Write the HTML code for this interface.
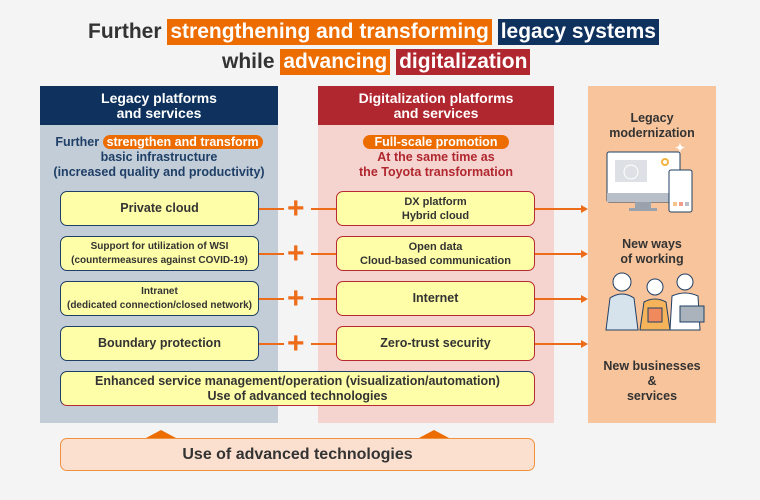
<!DOCTYPE html>
<html><head><meta charset="utf-8"><style>
*{margin:0;padding:0;box-sizing:border-box}
body{width:760px;height:500px;background:#f4f4f4;font-family:"Liberation Sans",Arial,sans-serif;font-weight:bold;color:#333;position:relative;overflow:hidden}
.a{position:absolute}
.t{position:absolute;font-size:21px;line-height:26px;white-space:nowrap;color:#333}
.t span{display:inline-block;color:#fff;padding:0 3px;line-height:26px}
.hd{position:absolute;color:#fff;text-align:center;font-size:14px;line-height:15px;padding-top:5px;height:39px}
.box{position:absolute;background:#fefea8;border:1.5px solid #1f3f66;border-radius:7px;display:flex;align-items:center;justify-content:center;text-align:center;font-size:12.5px;line-height:15px;color:#333}
.box.s{font-size:10px;line-height:14px}
.r{border-color:#b52a33}
.box.r.s{font-size:11px}
.ln{position:absolute;height:1.5px;background:#ed6c1a}
.plus{position:absolute;color:#ed6c1a;font-size:30px;line-height:26px;font-weight:bold}
.arr{position:absolute;width:0;height:0;border-top:4px solid transparent;border-bottom:4px solid transparent;border-left:7px solid #ed6c1a}
.c{position:absolute;text-align:center;font-size:12.5px;line-height:15px}
</style></head><body>
<div class="t" style="left:88px;top:19px">Further <span style="background:#ed6c00">strengthening and transforming</span> <span style="background:#0e325d">legacy systems</span></div>
<div class="t" style="left:222px;top:49px">while <span style="background:#ed6c00">advancing</span> <span style="background:#b1272f">digitalization</span></div>

<div class="a" style="left:40px;top:86px;width:238px;height:337px;background:#c2cdd8"></div>
<div class="hd" style="left:40px;top:86px;width:238px;background:#0e325d">Legacy platforms<br>and services</div>
<div class="a" style="left:318px;top:86px;width:236px;height:337px;background:#f5d4cf"></div>
<div class="hd" style="left:318px;top:86px;width:236px;background:#b1272f">Digitalization platforms<br>and services</div>
<div class="a" style="left:588px;top:86px;width:128px;height:337px;background:#f8c49b"></div>

<div class="c" style="left:40px;top:135px;width:238px;color:#1f3f66;line-height:15px">Further <span style="background:#ed6c00;color:#fff;border-radius:8px;padding:0 4px">strengthen and transform</span><br>basic infrastructure<br>(increased quality and productivity)</div>
<div class="c" style="left:318px;top:135px;width:236px;color:#b1272f;line-height:15px"><span style="background:#ed6c00;color:#fff;border-radius:8px;padding:0 12px">Full-scale promotion</span><br>At the same time as<br>the Toyota transformation</div>

<div class="box" style="left:60px;top:191px;width:199px;height:35px">Private cloud</div>
<div class="box s" style="left:60px;top:236px;width:199px;height:35px">Support for utilization of WSI<br>(countermeasures against COVID-19)</div>
<div class="box s" style="left:60px;top:281px;width:199px;height:35px">Intranet<br>(dedicated connection/closed network)</div>
<div class="box" style="left:60px;top:326px;width:199px;height:35px">Boundary protection</div>

<div class="box r s" style="left:336px;top:191px;width:199px;height:35px">DX platform<br>Hybrid cloud</div>
<div class="box r s" style="left:336px;top:236px;width:199px;height:35px">Open data<br>Cloud-based communication</div>
<div class="box r" style="left:336px;top:281px;width:199px;height:35px">Internet</div>
<div class="box r" style="left:336px;top:326px;width:199px;height:35px">Zero-trust security</div>

<div class="box" style="left:60px;top:371px;width:475px;height:35px;border-color:#1f3f66 #b52a33 #b52a33 #1f3f66">Enhanced service management/operation (visualization/automation)<br>Use of advanced technologies</div>

<div class="ln" style="left:259px;top:208px;width:25px"></div><div class="ln" style="left:311px;top:208px;width:25px"></div><div class="plus" style="left:287px;top:196px">+</div>
<div class="ln" style="left:259px;top:253px;width:25px"></div><div class="ln" style="left:311px;top:253px;width:25px"></div><div class="plus" style="left:287px;top:241px">+</div>
<div class="ln" style="left:259px;top:298px;width:25px"></div><div class="ln" style="left:311px;top:298px;width:25px"></div><div class="plus" style="left:287px;top:286px">+</div>
<div class="ln" style="left:259px;top:343px;width:25px"></div><div class="ln" style="left:311px;top:343px;width:25px"></div><div class="plus" style="left:287px;top:331px">+</div>

<div class="ln" style="left:535px;top:208px;width:47px"></div><div class="arr" style="left:581px;top:205px"></div>
<div class="ln" style="left:535px;top:253px;width:47px"></div><div class="arr" style="left:581px;top:250px"></div>
<div class="ln" style="left:535px;top:298px;width:47px"></div><div class="arr" style="left:581px;top:295px"></div>
<div class="ln" style="left:535px;top:343px;width:47px"></div><div class="arr" style="left:581px;top:340px"></div>

<div class="c" style="left:588px;top:111px;width:128px">Legacy<br>modernization</div>
<div class="c" style="left:588px;top:237px;width:128px">New ways<br>of working</div>
<div class="c" style="left:588px;top:359px;width:128px">New businesses<br>&amp;<br>services</div>

<svg class="a" style="left:605px;top:140px" width="100" height="75">
<rect x="2" y="12" width="73" height="50" rx="2" fill="#fff" stroke="#1f3f66" stroke-width="1"/>
<rect x="2" y="53" width="73" height="9" fill="#b8bfc8"/>
<rect x="10" y="20" width="32" height="22" fill="#dde0e4"/>
<circle cx="26" cy="32" r="7" fill="none" stroke="#fff"/>
<rect x="30" y="62" width="16" height="6" fill="#9aa3ad"/><rect x="24" y="68" width="28" height="3" fill="#9aa3ad"/>
<rect x="64" y="30" width="23" height="42" rx="2" fill="#fff" stroke="#1f3f66"/>
<rect x="68" y="62" width="4" height="4" fill="#f6c48a"/><rect x="74" y="62" width="4" height="4" fill="#f19d8a"/><rect x="80" y="62" width="4" height="4" fill="#b8bfc8"/>
<circle cx="60" cy="22" r="3" fill="none" stroke="#f3b53f" stroke-width="2"/>
<text x="70" y="12" fill="#fff" font-size="12">✦</text>
</svg>
<svg class="a" style="left:600px;top:270px" width="110" height="62">
<circle cx="22" cy="12" r="9" fill="#fff" stroke="#1f3f66"/>
<path d="M6 60 L10 28 Q22 20 34 28 L38 60Z" fill="#d7e3ec" stroke="#1f3f66"/>
<circle cx="55" cy="17" r="8" fill="#fff" stroke="#1f3f66"/>
<path d="M40 60 L44 32 Q55 26 66 32 L70 60Z" fill="#f6b45a" stroke="#1f3f66"/>
<rect x="48" y="38" width="14" height="14" fill="#f08a5d" stroke="#1f3f66"/>
<circle cx="85" cy="12" r="8" fill="#fff" stroke="#1f3f66"/>
<path d="M70 60 L72 26 Q85 20 98 26 L100 60Z" fill="#fff" stroke="#1f3f66"/>
<rect x="80" y="36" width="24" height="16" fill="#aab2bb" stroke="#1f3f66"/>
</svg>

<div class="a" style="left:146px;top:430px;width:0;height:0;border-left:15px solid transparent;border-right:15px solid transparent;border-bottom:8px solid #ed6c00"></div>
<div class="a" style="left:419px;top:430px;width:0;height:0;border-left:15px solid transparent;border-right:15px solid transparent;border-bottom:8px solid #ed6c00"></div>
<div class="a" style="left:60px;top:438px;width:475px;height:33px;background:#fbe0cf;border:1.5px solid #f0913f;border-radius:7px;text-align:center;font-size:16px;line-height:31px;color:#333">Use of advanced technologies</div>
</body></html>
